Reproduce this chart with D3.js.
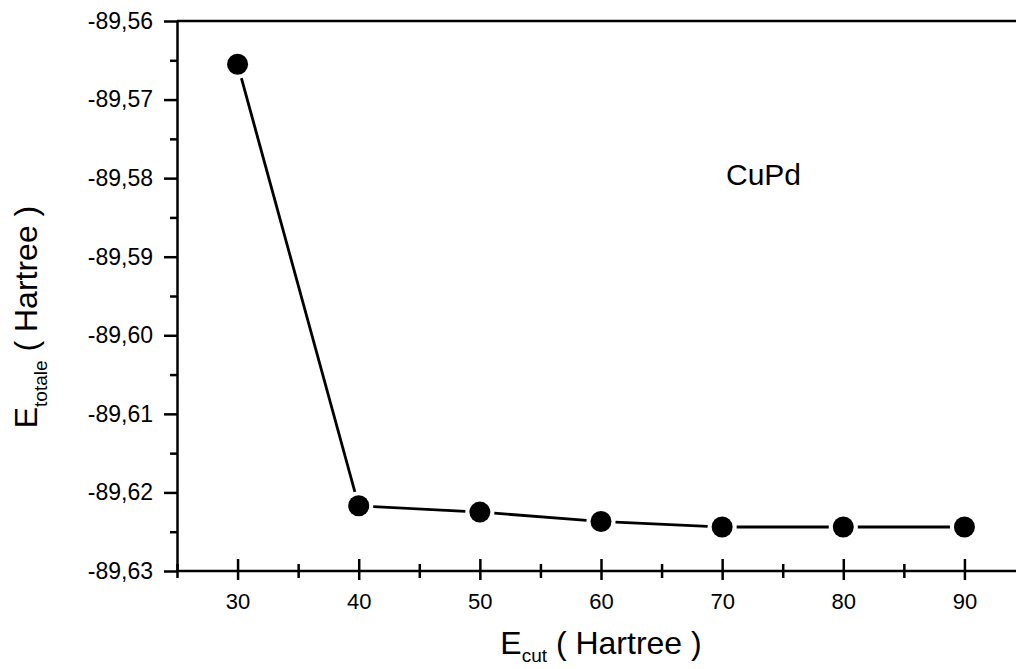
<!DOCTYPE html>
<html>
<head>
<meta charset="utf-8">
<script src="https://cdn.jsdelivr.net/npm/d3@7"></script>
<style>
  body { margin: 0; background: #fff; }
  svg { display: block; font-family: "Liberation Sans", Arial, sans-serif; }
  .axis path, .axis line { stroke: #000; stroke-width: 2.5; }
  .axis text { font-size: 22px; fill: #000; }
</style>
</head>
<body>
<div id="root"></div>
<script>
// data
var ecut = [30, 40, 50, 60, 70, 80, 90];
var etot = [-89.5655, -89.6217, -89.6225, -89.6237, -89.6244, -89.6244, -89.6244];
var xTicks = [30, 40, 50, 60, 70, 80, 90];
var xMinor = [25, 35, 45, 55, 65, 75, 85, 95];
var yTicks = [-89.56, -89.57, -89.58, -89.59, -89.60, -89.61, -89.62, -89.63];
var yMinor = [-89.565, -89.575, -89.585, -89.595, -89.605, -89.615, -89.625];

var W = 1016, H = 669;
var svg = d3.select("#root").append("svg")
  .attr("width", W).attr("height", H);

var x = d3.scaleLinear().domain([25, 95]).range([177, 1025]);
var y = d3.scaleLinear().domain([-89.63, -89.56]).range([571, 21]);

// plain hyphen and decimal comma, as in the original
var fmt = function(d) { return d.toFixed(2).replace(".", ","); };

// minor ticks (drawn first, under everything)
svg.append("g").attr("class", "axis")
  .attr("transform", "translate(0," + y(-89.63) + ")")
  .call(d3.axisBottom(x).tickValues(xMinor).tickSize(7).tickFormat(""))
  .call(function(g) { g.select(".domain").remove(); });
svg.append("g").attr("class", "axis")
  .attr("transform", "translate(0," + y(-89.63) + ")")
  .call(d3.axisBottom(x).tickValues(xMinor).tickSize(-7).tickFormat(""))
  .call(function(g) { g.select(".domain").remove(); });
svg.append("g").attr("class", "axis")
  .attr("transform", "translate(" + x(25) + ",0)")
  .call(d3.axisLeft(y).tickValues(yMinor).tickSize(7).tickFormat(""))
  .call(function(g) { g.select(".domain").remove(); });

// bottom axis: major ticks cross the axis line
svg.append("g").attr("class", "axis")
  .attr("transform", "translate(0," + y(-89.63) + ")")
  .call(d3.axisBottom(x).tickValues(xTicks).tickSize(-12).tickFormat(""))
  .call(function(g) { g.select(".domain").remove(); });
var xAxis = svg.append("g").attr("class", "axis")
  .attr("transform", "translate(0," + y(-89.63) + ")")
  .call(d3.axisBottom(x).tickValues(xTicks).tickSize(9).tickSizeOuter(0).tickPadding(13));
xAxis.select(".domain").attr("d", "M" + x(25) + ",0H" + W);

// left axis
var yAxis = svg.append("g").attr("class", "axis")
  .attr("transform", "translate(" + x(25) + ",0)")
  .call(d3.axisLeft(y).tickValues(yTicks).tickSize(13).tickSizeOuter(0).tickPadding(11).tickFormat(fmt));
yAxis.selectAll("text").style("font-size", "23px");

// top frame line
svg.append("line")
  .attr("x1", x(25)).attr("x2", W)
  .attr("y1", y(-89.56)).attr("y2", y(-89.56))
  .attr("stroke", "#000").attr("stroke-width", 2.5);

// connecting line, with small gaps at the symbols
var pts = ecut.map(function(d, i) { return [x(d), y(etot[i])]; });
var r = 10.5, gap = r + 4;
var segs = d3.pairs(pts).map(function(p) {
  var dx = p[1][0] - p[0][0], dy = p[1][1] - p[0][1];
  var len = Math.sqrt(dx * dx + dy * dy);
  var ux = dx / len, uy = dy / len;
  return [[p[0][0] + ux * gap, p[0][1] + uy * gap], [p[1][0] - ux * gap, p[1][1] - uy * gap]];
});
svg.append("g").selectAll("path")
  .data(segs)
  .enter().append("path")
  .attr("d", d3.line())
  .attr("stroke", "#000")
  .attr("stroke-width", 2.8)
  .attr("fill", "none");

// symbols
svg.append("g").selectAll("circle")
  .data(ecut)
  .enter().append("circle")
  .attr("cx", function(d) { return x(d); })
  .attr("cy", function(d, i) { return y(etot[i]); })
  .attr("r", r)
  .attr("fill", "#000");

// annotation
svg.append("text")
  .attr("x", 726).attr("y", 185)
  .style("font-size", "30px")
  .text("CuPd");

// x title
var xt = svg.append("text")
  .attr("x", 601).attr("y", 654)
  .attr("text-anchor", "middle")
  .style("font-size", "32px");
xt.append("tspan").text("E");
xt.append("tspan").attr("dy", 8).style("font-size", "19px").text("cut");
xt.append("tspan").attr("dy", -8).text(" ( Hartree )");

// y title
var yt = svg.append("text")
  .attr("transform", "translate(37,317) rotate(-90)")
  .attr("text-anchor", "middle")
  .style("font-size", "32px");
yt.append("tspan").text("E");
yt.append("tspan").attr("dy", 10).style("font-size", "19px").text("totale");
yt.append("tspan").attr("dy", -10).text(" ( Hartree )");
</script>
</body>
</html>
